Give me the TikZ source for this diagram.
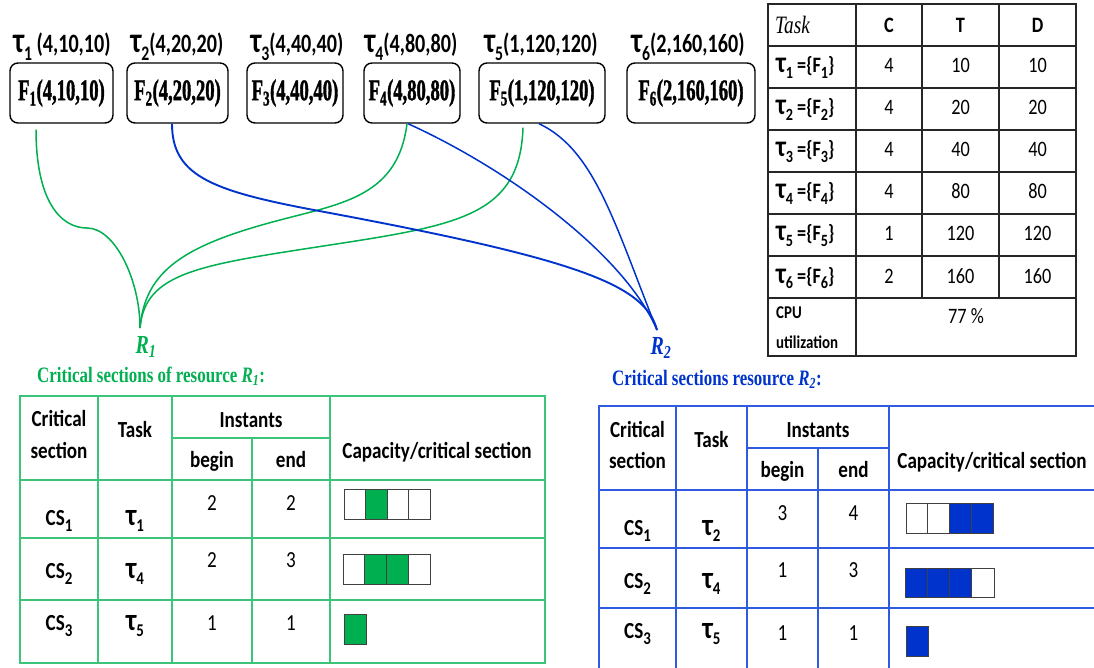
\documentclass[tikz,border=0pt]{standalone}
\usepackage{fontspec}
\setmainfont{Carlito}[FakeStretch=0.83]
\newfontfamily\calN{Carlito}[FakeStretch=0.76]
\newfontfamily\tnrbox{Liberation Serif}[FakeStretch=0.62, BoldFeatures={FakeBold=1.2}]
\newfontfamily\tnrcap{Liberation Serif}[FakeStretch=0.77]
\newcommand\fsz[1]{\fontsize{#1}{#1}\selectfont}
% a larger tau, as tall as the digits beside it
\newcommand\tauL{\scalebox{1.35}{τ}}
% large, well lowered subscript
\newcommand\sbs[1]{\raisebox{-0.27em}{\scalebox{0.78}{#1}}}

\definecolor{rgreen}{HTML}{00B050}
\definecolor{rblue}{HTML}{0033CC}
\definecolor{tgreen}{HTML}{3CC47A}
\definecolor{tblue}{HTML}{2F5BE0}

\tikzset{
  tasklbl/.style={font=\calN\fsz{26.5}\bfseries, inner sep=0, anchor=base},
  fnode/.style={draw=black, line width=1.4pt, rounded corners=8pt,
    minimum height=60pt, inner sep=0, font=\tnrbox\bfseries\fsz{30}},
  cell/.style={font=\fsz{23}, inner sep=0, anchor=base},
  cellb/.style={font=\fsz{23}\bfseries, inner sep=0, anchor=base},
  tcell/.style={font=\fsz{22}, inner sep=0, anchor=base},
  tcellb/.style={font=\fsz{22}\bfseries, inner sep=0, anchor=base},
  gcurve/.style={draw=rgreen, line width=1.5pt},
  bcurve/.style={draw=rblue, line width=1.5pt},
  tline/.style={draw=black!85, line width=1.3pt},
  gline/.style={draw=tgreen, line width=1.2pt},
  bline/.style={draw=tblue, line width=1.2pt},
  slot/.style={draw=black!75, line width=0.9pt},
  reslbl/.style={font=\tnrcap\bfseries\itshape\fsz{26}, inner sep=0},
  caption/.style={font=\tnrcap\bfseries\fsz{22}, inner sep=0, anchor=base west},
}

\begin{document}
\begin{tikzpicture}[x=1pt,y=-1pt]
\useasboundingbox (0,0) rectangle (1094,668);

% ---- tasks and their functions ----
\node[tasklbl] (t1) at (62,53)  {\tauL\sbs{1} (4,10,10)};
\node[tasklbl] (t2) at (177,53) {\tauL\sbs{2}(4,20,20)};
\node[tasklbl] (t3) at (297,53) {\tauL\sbs{3}(4,40,40)};
\node[tasklbl] (t4) at (411,53) {\tauL\sbs{4}(4,80,80)};
\node[tasklbl] (t5) at (541,53) {\tauL\sbs{5}(1,120,120)};
\node[tasklbl] (t6) at (688,53) {\tauL\sbs{6}(2,160,160)};

\node[fnode, minimum width=103pt] (f1) at (61.5,93)  {F\textsubscript{1}(4,10,10)};
\node[fnode, minimum width=101pt] (f2) at (177.5,93) {F\textsubscript{2}(4,20,20)};
\node[fnode, minimum width=96pt]  (f3) at (295,93)   {F\textsubscript{3}(4,40,40)};
\node[fnode, minimum width=96pt]  (f4) at (412,93)   {F\textsubscript{4}(4,80,80)};
\node[fnode, minimum width=126pt] (f5) at (542,93)   {F\textsubscript{5}(1,120,120)};
\node[fnode, minimum width=128pt] (f6) at (691,93)   {F\textsubscript{6}(2,160,160)};

% ---- resources ----
\coordinate (r1in) at (140,328);
\coordinate (r2in) at (657,330);
\node[reslbl, text=rgreen] (r1) at (146,347) {R\textsubscript{1}};
\node[reslbl, text=rblue]  (r2) at (661,348) {R\textsubscript{2}};

% accesses to R1
\draw[gcurve] ([shift={(-25.5,6)}]f1.south)
  .. controls (36,200) and (60,228) .. (87,228)
  .. controls (115,228) and (140,280) .. (r1in);
\draw[gcurve] ([xshift=-5pt]f4.south)
  .. controls (398,195) and (345,203) .. (280,220)
  .. controls (185,245) and (145,270) .. (r1in);
\draw[gcurve] ([shift={(-19,4)}]f5.south)
  .. controls (520,215) and (460,225) .. (330,245)
  .. controls (200,265) and (145,272) .. (r1in);

% accesses to R2
\draw[bcurve, line width=1.9pt] ([xshift=-5.5pt]f2.south)
  .. controls (172,178) and (215,192) .. (330,213)
  .. controls (580,260) and (645,285) .. (r2in);
\draw[bcurve] ([xshift=-4pt]f4.south)
  .. controls (510,170) and (625,255) .. (r2in);
\draw[bcurve] ([xshift=-3pt]f5.south)
  .. controls (595,150) and (615,225) .. (r2in);

% ---- task parameter table ----
\draw[tline] (768,4) rectangle (1076,356);
\foreach \y in {46,88,130,172,214,256,298} \draw[tline] (768,\y) -- (1076,\y);
\draw[tline] (856,4) -- (856,356);
\foreach \x in {922,999} \draw[tline] (\x,4) -- (\x,298);

\node[font=\tnrcap\itshape\fsz{25}, inner sep=0, anchor=base west] (thtask) at (775,34) {Task};
\node[tcellb] (thc) at (889,33) {C};
\node[tcellb] (tht) at (960.5,33) {T};
\node[tcellb] (thd) at (1037.5,33) {D};
\foreach \i/\cv/\pv/\y in {1/4/10/73, 2/4/20/115, 3/4/40/157, 4/4/80/199, 5/1/120/241, 6/2/160/283} {
  \node[tcellb, anchor=base west] (tr\i) at (776,\y) {\tauL\sbs{\i} =\{F\sbs{\i}\}};
  \node[tcell] (tc\i) at (889,\y) {\cv};
  \node[tcell] (tt\i) at (960.5,\y) {\pv};
  \node[tcell] (td\i) at (1037.5,\y) {\pv};
}
\node[font=\fsz{18}\bfseries, inner sep=0, anchor=base west] (cpu1) at (776,318) {CPU};
\node[font=\fsz{18}\bfseries, inner sep=0, anchor=base west] (cpu2) at (776,348) {utilization};
\node[tcell] (util) at (966,323) {77 \%};

% ---- critical sections of R1 ----
\node[caption, text=rgreen] (cap1) at (37,382)
  {Critical sections of resource \textit{R}\textsubscript{\textit{1}}:};
\draw[gline] (20,396) rectangle (545,663);
\draw[gline] (172,438) -- (330,438);
\foreach \y in {480,538,600} \draw[gline] (20,\y) -- (545,\y);
\foreach \x in {98,172,330} \draw[gline] (\x,396) -- (\x,663);
\draw[gline] (252,438) -- (252,663);

\node[cellb] (ga1) at (59,426) {Critical};
\node[cellb] (ga2) at (59,458) {section};
\node[cellb] (gtask) at (135,437) {Task};
\node[cellb] (ginst) at (251,427) {Instants};
\node[cellb] (gbeg) at (212,467) {begin};
\node[cellb] (gend) at (291,467) {end};
\node[cellb] (gcap) at (437,458) {Capacity/critical section};

\foreach \i/\t/\y/\b/\e/\ny in {1/1/525/2/2/510, 2/4/578/2/3/567, 3/5/630/1/1/630} {
  \node[cellb] (gcs\i) at (59,\y) {CS\sbs{\i}};
  \node[cellb] (gtk\i) at (135,\y) {\tauL\sbs{\t}};
  \node[cell] (gb\i) at (212,\ny) {\b};
  \node[cell] (ge\i) at (291,\ny) {\e};
}
% capacity slots, R1
\foreach \k in {0,...,3}
  \draw[slot, fill=white] (344+21.5*\k,489) rectangle (365.5+21.5*\k,519);
\fill[rgreen, draw=black!75, line width=0.9pt] (365.5,489) rectangle (387,519);
\foreach \k in {0,...,3}
  \draw[slot, fill=white] (343+21.75*\k,554) rectangle (364.75+21.75*\k,584);
\draw[slot, fill=rgreen] (364.75,554) rectangle (386.5,584);
\draw[slot, fill=rgreen] (386.5,554) rectangle (408.25,584);
\draw[slot, fill=rgreen] (344,614) rectangle (366,644);

% ---- critical sections of R2 ----
\node[caption, text=rblue] (cap2) at (612,385)
  {Critical sections resource \textit{R}\textsubscript{\textit{2}}:};
\draw[bline] (1094,406) -- (599,406) -- (599,668);
\draw[bline] (747,448) -- (889,448);
\foreach \y in {490,548,608} \draw[bline] (599,\y) -- (1094,\y);
\foreach \x in {676,747,889} \draw[bline] (\x,406) -- (\x,668);
\draw[bline] (818,448) -- (818,668);

\node[cellb] (ba1) at (637.5,437) {Critical};
\node[cellb] (ba2) at (637.5,468) {section};
\node[cellb] (btask) at (711.5,447) {Task};
\node[cellb] (binst) at (818,437) {Instants};
\node[cellb] (bbeg) at (782.5,477) {begin};
\node[cellb] (bend) at (853.5,477) {end};
\node[cellb] (bcap) at (992,468) {Capacity/critical section};

\foreach \i/\t/\y/\b/\e/\ny in {1/2/535/3/4/520, 2/4/588/1/3/577, 3/5/638/1/1/640} {
  \node[cellb] (bcs\i) at (637.5,\y) {CS\sbs{\i}};
  \node[cellb] (btk\i) at (711.5,\y) {\tauL\sbs{\t}};
  \node[cell] (bb\i) at (782.5,\ny) {\b};
  \node[cell] (be\i) at (853.5,\ny) {\e};
}
% capacity slots, R2
\foreach \k in {0,...,3}
  \draw[slot, fill=white] (906+21.75*\k,503) rectangle (927.75+21.75*\k,533);
\draw[slot, fill=rblue] (949.5,503) rectangle (971.25,533);
\draw[slot, fill=rblue] (971.25,503) rectangle (993,533);
\foreach \k in {0,...,3}
  \draw[slot, fill=white] (905+22.25*\k,568) rectangle (927.25+22.25*\k,597);
\foreach \k in {0,...,2}
  \draw[slot, fill=rblue] (905+22.25*\k,568) rectangle (927.25+22.25*\k,597);
\draw[slot, fill=rblue] (906,626) rectangle (928,656);

\end{tikzpicture}
\end{document}
